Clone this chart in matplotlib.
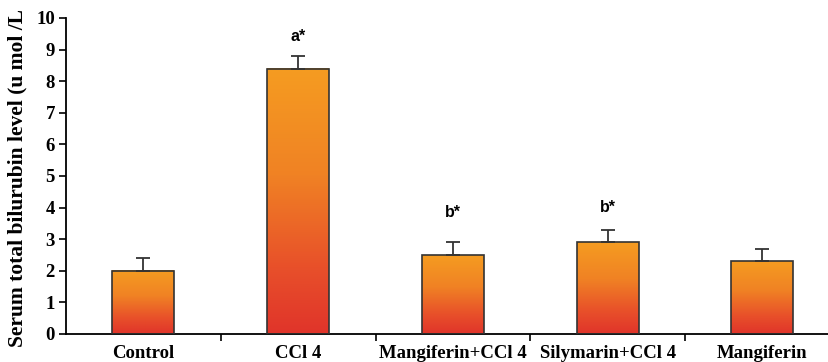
import numpy as np
import matplotlib
matplotlib.use("Agg")
import matplotlib.pyplot as plt
from matplotlib.colors import LinearSegmentedColormap

# Data
groups = ["Control", "CCl 4", "Mangiferin+CCl 4", "Silymarin+CCl 4", "Mangiferin"]
means = [2.0, 8.4, 2.5, 2.9, 2.3]
errors = [0.4, 0.4, 0.4, 0.4, 0.4]
marks = ["", "a*", "b*", "b*", ""]
mark_y = [0, 9.4, 3.85, 4.0, 0]

# orange (top) to red (bottom)
cmap = LinearSegmentedColormap.from_list(
    "bar", [(0.0, "#E0342A"), (0.25, "#E8502A"), (0.6, "#F08224"), (1.0, "#F59C21")])

fig = plt.figure(figsize=(8.29, 3.62), dpi=100)
ax = fig.add_axes([66 / 829, 28 / 362, 763 / 829, 316 / 362])

x = np.arange(len(groups))
width = 0.4
grad = np.linspace(0, 1, 256).reshape(-1, 1)

for xi, m, e in zip(x, means, errors):
    ax.imshow(grad, cmap=cmap, origin="lower", aspect="auto",
              extent=(xi - width / 2, xi + width / 2, 0, m), zorder=2)
    ax.add_patch(plt.Rectangle((xi - width / 2, 0), width, m, fill=False,
                               edgecolor="#333333", linewidth=1.2, zorder=3))
    ax.errorbar(xi, m, yerr=[[0], [e]], fmt="none", ecolor="#333333",
                elinewidth=1.3, capsize=5, capthick=1.3, zorder=3)

for xi, t, y in zip(x, marks, mark_y):
    if t:
        ax.text(xi, y, t, ha="center", va="center", fontsize=11.5,
                fontweight="bold", family="Liberation Sans")

ax.set_xlim(-0.5, 4.43)
ax.set_ylim(0, 10)
ax.set_yticks(range(0, 11))
ax.set_xticks(x)
ax.set_xticklabels(groups)
ax.set_xticks(x[:-1] + 0.5, minor=True)
ax.tick_params(axis="x", which="major", length=0, pad=8)
ax.tick_params(axis="x", which="minor", length=5, direction="out", width=1.2)
ax.tick_params(axis="y", length=5, direction="out", width=1.2, pad=3)
for lab in ax.get_xticklabels() + ax.get_yticklabels():
    lab.set_family("Liberation Serif")
    lab.set_fontweight("bold")
    lab.set_fontsize(13.5)

ax.spines["top"].set_visible(False)
ax.spines["right"].set_visible(False)
ax.spines["left"].set_linewidth(1.3)
ax.spines["bottom"].set_linewidth(1.3)

fig.text(17 / 829, 1 - 178 / 362, "Serum total bilurubin level (u mol /L",
         rotation=90, ha="center", va="center", fontsize=15.5,
         fontweight="bold", family="Liberation Serif")

fig.savefig("out.png", dpi=100)
